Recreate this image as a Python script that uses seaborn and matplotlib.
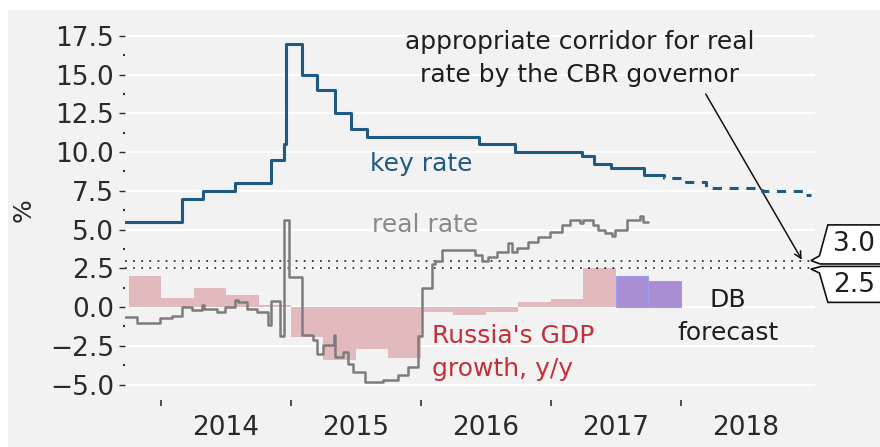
import matplotlib
matplotlib.use("Agg")
import matplotlib.pyplot as plt
from matplotlib.patches import Polygon, Rectangle
from matplotlib.ticker import FixedLocator, FuncFormatter, MultipleLocator
import numpy as np
import pandas as pd
import seaborn as sns

# CBR key rate, decimal year where each level starts (last point = end of solid line)
key_dates = [2013.70, 2014.165, 2014.32, 2014.57, 2014.845, 2014.947, 2014.958, 2015.087,
             2015.20, 2015.34, 2015.46, 2015.585, 2016.45, 2016.72, 2017.235, 2017.33,
             2017.465, 2017.715, 2017.82]
key_vals = [5.5, 7.0, 7.5, 8.0, 9.5, 10.5, 17.0, 15.0, 14.0, 12.5, 11.5, 11.0, 10.5, 10.0,
            9.75, 9.25, 9.0, 8.5, 8.5]

# key rate forecast (dashed)
fcst_dates = [2017.82, 2017.87, 2018.04, 2018.19, 2018.62, 2018.95, 2019.0]
fcst_vals = [8.5, 8.3, 8.05, 7.7, 7.5, 7.25, 7.25]

# real rate
real_dates = [2013.72, 2013.815, 2013.992, 2014.085, 2014.162, 2014.238, 2014.315, 2014.33,
              2014.431, 2014.492, 2014.569, 2014.592, 2014.662, 2014.738, 2014.823, 2014.846,
              2014.915, 2014.946, 2014.985, 2015.085, 2015.169, 2015.2, 2015.246, 2015.331,
              2015.338, 2015.40, 2015.438, 2015.477, 2015.569, 2015.708, 2015.823, 2015.90,
              2015.977, 2016.008, 2016.085, 2016.108, 2016.162, 2016.415, 2016.469, 2016.515,
              2016.585, 2016.669, 2016.70, 2016.738, 2016.823, 2016.90, 2016.992, 2017.085,
              2017.146, 2017.223, 2017.246, 2017.323, 2017.362, 2017.415, 2017.469, 2017.492,
              2017.585, 2017.685, 2017.708, 2017.746]
real_vals = [-0.65, -1.0, -0.7, -0.6, 0.0, -0.2, 0.15, -0.15,
             -0.35, 0.0, 0.45, 0.35, -0.1, -0.35, -1.15, 0.4,
             -1.9, 5.6, 1.95, -1.8, -2.1, -3.0, -2.45, -1.8,
             -3.2, -2.9, -3.7, -4.2, -4.85, -4.7, -4.4, -3.9,
             -1.9, 1.2, 2.8, 3.0, 3.7, 3.35, 3.0, 3.2,
             3.55, 4.1, 3.55, 3.8, 4.2, 4.5, 4.85, 5.3,
             5.6, 5.4, 5.6, 5.3, 5.0, 4.75, 4.6, 5.0,
             5.6, 5.9, 5.5, 5.5]

# GDP growth y/y by quarter (quarter start)
gdp_quarters = [2013.75, 2014.0, 2014.25, 2014.5, 2014.75, 2015.0, 2015.25, 2015.5, 2015.75,
                2016.0, 2016.25, 2016.5, 2016.75, 2017.0, 2017.25]
gdp_vals = [2.0, 0.6, 1.2, 0.8, 0.15, -1.95, -3.4, -2.7, -3.3, -0.3, -0.5, -0.35, 0.3, 0.5, 2.5]
gdp_fc_quarters = [2017.5, 2017.75]
gdp_fc_vals = [2.0, 1.7]

years = [2014, 2015, 2016, 2017, 2018]
corridor = [3.0, 2.5]

blue = "#1f5a85"
grey_line = "#7c7c7c"
red = "#c4303a"
bg = "#f2f2f2"
ink = "#1e1e1e"

sns.set_theme(style="darkgrid", rc={
    "axes.facecolor": bg,
    "grid.color": "white",
    "grid.linewidth": 1.6,
    "xtick.bottom": True,
    "ytick.left": True,
    "xtick.color": "#2a2a2a",
    "ytick.color": "#2a2a2a",
})
plt.rcParams["font.family"] = ["DejaVu Sans"]

fig = plt.figure(figsize=(8.8, 4.47), dpi=100, facecolor="white")
fig.patches.append(Rectangle((8 / 880, 0), 1, 1 - 10 / 447, transform=fig.transFigure,
                             facecolor=bg, edgecolor="none", zorder=-10))
ax = fig.add_axes([125 / 880, 47 / 447, 690 / 880, 375 / 447])

# GDP bars
ax.bar(gdp_quarters, gdp_vals, width=0.25, align="edge", color="#e2b9bd", linewidth=0, zorder=1)
ax.bar(gdp_fc_quarters, gdp_fc_vals, width=0.25, align="edge", color="#a98ed3",
       edgecolor="#9c9cf2", linewidth=0.8, zorder=1)

# corridor
for c in corridor:
    ax.axhline(c, color="#333333", lw=1.3, ls=(0, (1, 3.5)), zorder=2)

# lines
sns.lineplot(x=real_dates, y=real_vals, drawstyle="steps-post", color=grey_line, lw=1.8,
             ax=ax, zorder=3)
sns.lineplot(x=key_dates, y=key_vals, drawstyle="steps-post", color=blue, lw=2.2,
             ax=ax, zorder=4)
sns.lineplot(x=fcst_dates, y=fcst_vals, drawstyle="steps-post", color=blue, lw=2.2,
             ax=ax, zorder=4, linestyle=(0, (3, 2.5)))

ax.set_xlim(2013.723, 2019.031)
ax.set_ylim(-6.0, 18.2)

# ticks
ax.yaxis.set_major_locator(MultipleLocator(2.5))
ax.yaxis.set_minor_locator(MultipleLocator(1.25))
ax.yaxis.set_major_formatter(FuncFormatter(lambda v, p: f"{v:.1f}".replace("-", "\u2212")))
ax.tick_params(axis="y", which="major", length=4, width=1, pad=4, labelsize=19)
ax.tick_params(axis="y", which="minor", length=1.5, width=1.5, left=True, color="#333333")
ax.xaxis.set_major_locator(FixedLocator([y + 0.5 for y in years]))
ax.set_xticklabels([str(y) for y in years])
ax.xaxis.set_minor_locator(FixedLocator(years))
ax.tick_params(axis="x", which="major", length=0, pad=11, labelsize=19)
ax.tick_params(axis="x", which="minor", length=4, width=1.2, bottom=True, color="#333333")
ax.xaxis.grid(False)
ax.grid(axis="y", which="minor", visible=False)
for s in ax.spines.values():
    s.set_visible(False)

ax.set_xlabel("")
ax.set_ylabel("%", fontsize=18, color="#2a2a2a")
ax.yaxis.set_label_coords(-0.13, 0.507)

# labels
ax.text(2017.22, 16.05, "appropriate corridor for real\nrate by the CBR governor", ha="center",
        va="center", fontsize=18, color=ink, linespacing=1.5)
ax.annotate("", xy=(2018.94, 2.9), xytext=(2018.18, 13.9),
            arrowprops=dict(arrowstyle="->", color="#111111", lw=1.1))
ax.text(2016.0, 9.2, "key rate", ha="center", va="center", fontsize=18, color=blue)
ax.text(2016.03, 5.3, "real rate", ha="center", va="center", fontsize=18, color="#8a8a8a")
ax.text(2016.085, -2.95, "Russia's GDP\ngrowth, y/y", ha="left", va="center", fontsize=18,
        color=red, linespacing=1.5)
ax.text(2018.36, -0.6, "DB\nforecast", ha="center", va="center", fontsize=18, color=ink,
        linespacing=1.5)

# corridor tags on the right
upper = [(2019.13, 5.3), (2019.065, 3.3), (2019.0, 3.0), (2019.07, 2.78), (2019.8, 2.78),
         (2019.8, 5.3)]
lower = [(2019.8, 2.62), (2019.08, 2.62), (2019.0, 2.45), (2019.065, 2.2), (2019.13, 0.3),
         (2019.8, 0.3)]
for pts in (upper, lower):
    ax.add_patch(Polygon(pts, closed=True, facecolor="white", edgecolor="#111111", lw=1.2,
                         clip_on=False, zorder=5))
ax.text(2019.17, 4.05, "3.0", ha="left", va="center", fontsize=19, color=ink, zorder=6)
ax.text(2019.17, 1.45, "2.5", ha="left", va="center", fontsize=19, color=ink, zorder=6)

fig.savefig("out.png", dpi=100)
